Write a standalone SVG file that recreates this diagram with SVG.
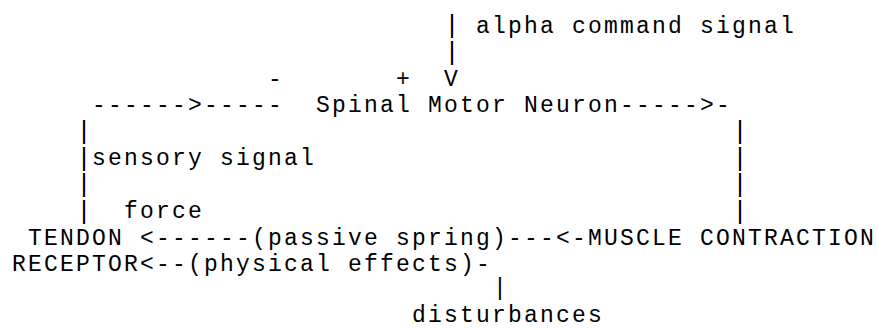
<svg xmlns="http://www.w3.org/2000/svg" width="878" height="329" viewBox="0 0 878 329">
<style>
  text { font-family: "Liberation Mono", "Courier New", monospace; font-size: 23px; letter-spacing: 2.2px; fill: #000; }
  .bar { font-size: 25px; letter-spacing: 0; }
  .bar-s { font-size: 23px; letter-spacing: 0; }
</style>
<rect width="878" height="329" fill="#fff"/>
<g id="connectors">
  <text class="bar" x="444.5" y="33">|</text>
  <text class="bar" x="444.5" y="59.5">|</text>
  <text x="444" y="85.5">V</text>
  <text x="268" y="85.5">-</text>
  <text x="396" y="85.5">+</text>
  <text x="92" y="112">------&gt;-----</text>
  <text x="620" y="112">-----&gt;-</text>
  <text class="bar" x="76.5" y="139">|</text>
  <text class="bar" x="732.5" y="139">|</text>
  <text class="bar" x="76.5" y="165.5">|</text>
  <text class="bar" x="732.5" y="165.5">|</text>
  <text class="bar" x="76.5" y="192">|</text>
  <text class="bar" x="732.5" y="192">|</text>
  <text class="bar" x="76.5" y="218.5">|</text>
  <text class="bar" x="732.5" y="218.5">|</text>
  <text x="140" y="244.5">&lt;------</text>
  <text x="508" y="244.5">---&lt;-</text>
  <text x="140" y="271">&lt;--</text>
  <text x="476" y="271">-</text>
  <text class="bar-s" x="493" y="294.5">|</text>
</g>
<g id="label-alpha"><text x="476" y="32.5">alpha command signal</text></g>
<g id="label-sensory"><text x="92" y="165">sensory signal</text></g>
<g id="label-force"><text x="124" y="218">force</text></g>
<g id="label-passive"><text x="252" y="244.5">(passive spring)</text></g>
<g id="label-physical"><text x="188" y="271">(physical effects)</text></g>
<g id="node-motor-neuron"><text x="316" y="112">Spinal Motor Neuron</text></g>
<g id="node-tendon-receptor">
  <text x="28" y="244.5">TENDON</text>
  <text x="12" y="271">RECEPTOR</text>
</g>
<g id="node-muscle"><text x="588" y="244.5">MUSCLE CONTRACTION</text></g>
<g id="node-disturbances"><text x="412" y="321.5">disturbances</text></g>
</svg>
